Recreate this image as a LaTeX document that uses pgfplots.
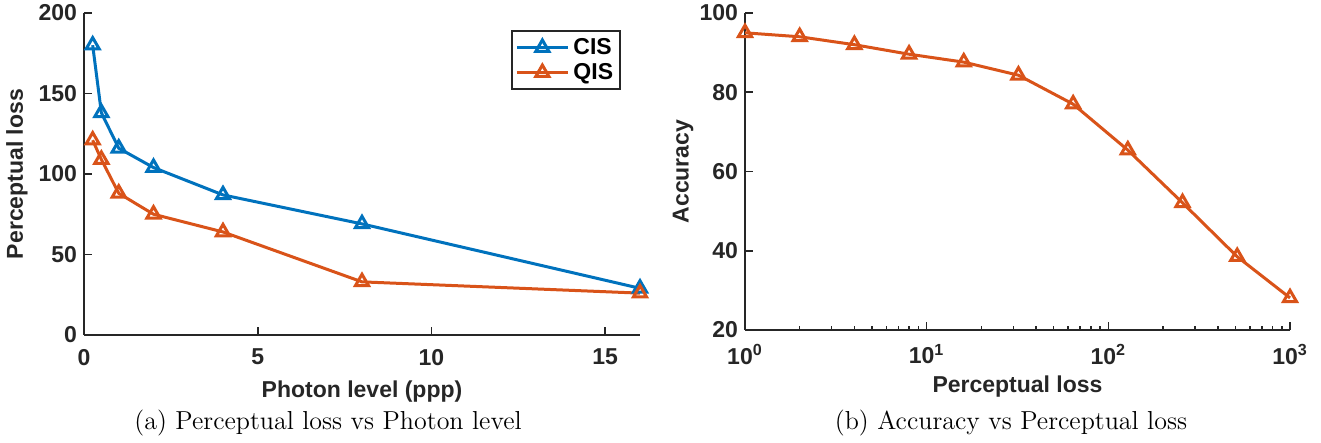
\documentclass[border=0pt]{standalone}
\usepackage{fontspec}
\usepackage{pgfplots}
\pgfplotsset{compat=1.18}
\newfontfamily\arialf{Liberation Sans}
\definecolor{mblue}{RGB}{0,114,189}
\definecolor{morange}{RGB}{217,83,25}
\definecolor{axgray}{RGB}{38,38,38}
\newcommand{\tickfont}{\arialf\bfseries\fontsize{11.5}{13}\selectfont}
\pgfplotsset{mystyle/.style={
  scale only axis,
  axis x line*=bottom, axis y line*=left,
  axis line style={-, axgray, line width=1pt},
  tick style={axgray, line width=0.8pt},
  major tick length=4pt, minor tick length=2pt,
  tick align=inside,
  /pgf/number format/assume math mode=true,
  tick label style={font=\tickfont, text=axgray},
  xticklabel style={yshift=-3.5pt},
  label style={font=\tickfont, text=axgray},
  xlabel style={at={(axis description cs:0.5,0)}, yshift=-28.5pt, anchor=center},
  every axis plot/.append style={line width=1.5pt, mark=triangle, mark size=3.8pt, mark options={solid}},
  clip=false,
}}
\begin{document}
\begin{tikzpicture}
\useasboundingbox (-42pt,-54pt) rectangle (618.5pt,167.5pt);
\begin{axis}[mystyle,
  at={(0pt,0pt)}, anchor=south west,
  width=278pt, height=161pt,
  xmin=0, xmax=16, ymin=0, ymax=200,
  xtick={0,5,10,15}, ytick={0,50,100,150,200},
  xlabel={Photon level (ppp)}, ylabel={Perceptual loss},
  ylabel style={at={(axis description cs:0,0.5)}, yshift=33.5pt, anchor=center},
  legend style={at={(0.966,0.947)}, anchor=north east, draw=axgray, line width=1pt,
    font=\tickfont, text=black, inner sep=1.5pt, row sep=-1pt},
  legend cell align=left,
  legend image code/.code={\draw[mark repeat=2,mark phase=2] plot coordinates {(0cm,0cm) (0.45cm,0cm) (0.9cm,0cm)};},
]
\addplot[color=mblue] coordinates {(0.25,180) (0.5,138) (1,116) (2,104) (4,87) (8,69) (16,29)};
\addlegendentry{CIS}
\addplot[color=morange] coordinates {(0.25,121) (0.5,109) (1,88) (2,75) (4,64) (8,33) (16,26)};
\addlegendentry{QIS}
\end{axis}
\begin{axis}[mystyle,
  at={(330.5pt,2.5pt)}, anchor=south west,
  width=272.5pt, height=158.5pt,
  xmode=log, xmin=1, xmax=1000, ymin=20, ymax=100,
  xtick={1,10,100,1000},
  xticklabels={10\textsuperscript{0},10\textsuperscript{1},10\textsuperscript{2},10\textsuperscript{3}},
  minor xtick={2,3,4,5,6,7,8,9,20,30,40,50,60,70,80,90,200,300,400,500,600,700,800,900},
  ytick={20,40,60,80,100},
  xlabel={Perceptual loss}, ylabel={Accuracy},
  ylabel style={at={(axis description cs:0,0.5)}, yshift=31pt, anchor=center},
]
\addplot[color=morange] coordinates {(1,95) (2,94) (4,92) (8,89.6) (16,87.6) (32,84.3) (64,77) (128,65.4) (256,52.1) (512,38.5) (1000,28.1)};
\end{axis}
\node[font=\fontsize{13}{15}\selectfont, anchor=center] at (122pt,-44pt) {(a) Perceptual loss vs Photon level};
\node[font=\fontsize{13}{15}\selectfont, anchor=center] at (463.5pt,-44pt) {(b) Accuracy vs Perceptual loss};
\end{tikzpicture}
\end{document}
